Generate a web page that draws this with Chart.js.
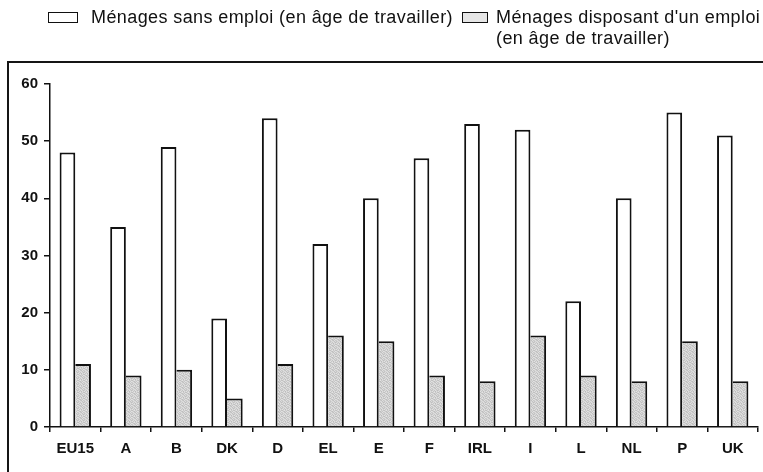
<!DOCTYPE html>
<html>
<head>
<meta charset="utf-8">
<script src="https://cdn.jsdelivr.net/npm/chart.js@4/dist/chart.umd.min.js"></script>
<style>
  html, body { margin: 0; padding: 0; background: #fff; }
  #wrap { position: relative; width: 763px; height: 472px; overflow: hidden; background: #fff; }
  #frame { position: absolute; left: 7px; top: 61px; width: 800px; height: 500px; border: 2px solid #151515; box-sizing: border-box; }
  #c { position: absolute; left: 0; top: 0; }
  .lg { position: absolute; font-family: "Liberation Sans", Arial, sans-serif; font-size: 18px; letter-spacing: 0.4px; color: #111; line-height: 21px; white-space: normal; }
  .box { position: absolute; border: 1.5px solid #111; box-sizing: border-box; }
</style>
</head>
<body>
<div id="wrap">
  <div id="frame"></div>
  <canvas id="c" width="763" height="472"></canvas>
  <div class="box" id="box1" style="left:48px; top:12px; width:30px; height:11px; background:#fff;"></div>
  <div class="lg" id="lab1" style="left:91px; top:7px; white-space:nowrap;"></div>
  <div class="box" id="box2" style="left:462px; top:12px; width:26px; height:11px; background:#e6e6e6;"></div>
  <div class="lg" id="lab2" style="left:496px; top:7px; width:268px;"></div>
</div>
<script>
const categories = ['EU15', 'A', 'B', 'DK', 'D', 'EL', 'E', 'F', 'IRL', 'I', 'L', 'NL', 'P', 'UK'];
const sansEmploi = [48, 35, 49, 19, 54, 32, 40, 47, 53, 52, 22, 40, 55, 51];
const avecEmploi = [11, 9, 10, 5, 11, 16, 15, 9, 8, 16, 9, 8, 15, 8];
const yTicks = [0, 10, 20, 30, 40, 50, 60];
const seriesNames = ['Ménages sans emploi (en âge de travailler)', "Ménages disposant d'un emploi (en âge de travailler)"];

// stippled grey fill (fixed 6x6 tile)
function makePattern(c) {
  const p = document.createElement('canvas');
  p.width = 6; p.height = 6;
  const g = p.getContext('2d');
  const shades = [
    'cbdcc4e0d2bf',
    'e2c6d8bcded0',
    'c0d6e4cad9c3',
    'dcc8bed4c6e2',
    'cee0cac0e0c8',
    'c4d2dcd8c2da'
  ];
  for (let y = 0; y < 6; y++) for (let x = 0; x < 6; x++) {
    const h = shades[y].substr(x * 2, 2);
    g.fillStyle = '#' + h + h + h;
    g.fillRect(x, y, 1, 1);
  }
  return c.createPattern(p, 'repeat');
}
const ctx = document.getElementById('c').getContext('2d');
const grey = makePattern(ctx);

document.getElementById('lab1').textContent = seriesNames[0];
document.getElementById('lab2').textContent = seriesNames[1];

const tickFont = { family: 'Liberation Sans, Arial, sans-serif', size: 15, weight: 'bold' };

new Chart(ctx, {
  type: 'bar',
  data: {
    labels: categories,
    datasets: [
      { label: seriesNames[0], data: sansEmploi, backgroundColor: '#ffffff', borderColor: '#111', borderWidth: {left: 2, top: 2, right: 2, bottom: 0}, borderSkipped: false },
      { label: seriesNames[1], data: avecEmploi, backgroundColor: grey, borderColor: '#111', borderWidth: {left: 0, top: 2, right: 2, bottom: 0}, borderSkipped: false }
    ]
  },
  options: {
    responsive: false,
    animation: false,
    devicePixelRatio: 1,
    layout: { padding: { top: 84, right: 5, bottom: 0, left: 0 } },
    datasets: { bar: { categoryPercentage: 0.62, barPercentage: 1.0 } },
    plugins: { legend: { display: false }, tooltip: { enabled: false } },
    scales: {
      x: {
        grid: { offset: true, drawOnChartArea: false, drawTicks: true, tickLength: 5, color: '#111', lineWidth: 1.5 },
        border: { display: true, color: '#111', width: 1.5 },
        ticks: { color: '#111', padding: 8, font: tickFont },
        afterFit: (s) => { s.height = 45; }
      },
      y: {
        min: 0, max: 60,
        afterBuildTicks: (s) => { s.ticks = yTicks.map(v => ({ value: v })); },
        grid: { drawOnChartArea: false, drawTicks: true, tickLength: 6, color: '#111', lineWidth: 1.5 },
        border: { display: true, color: '#111', width: 1.5 },
        ticks: { color: '#111', padding: 6, font: tickFont },
        afterFit: (s) => { s.width = 50; }
      }
    }
  }
});
</script>
</body>
</html>
